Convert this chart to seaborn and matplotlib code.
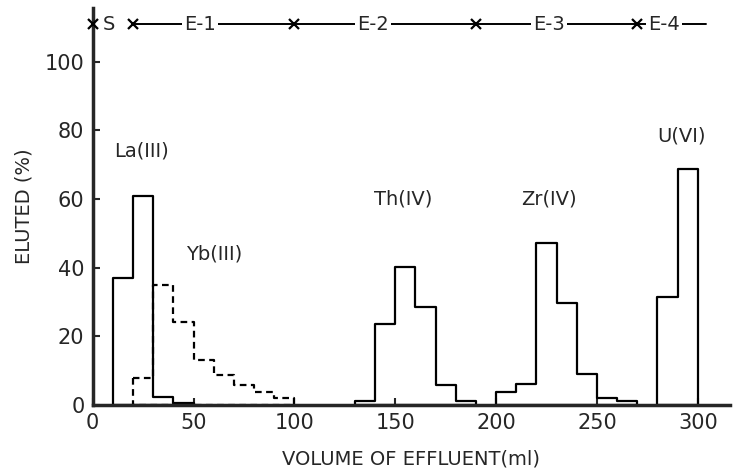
import matplotlib
matplotlib.use("Agg")
import matplotlib.pyplot as plt
import seaborn as sns
import numpy as np
import pandas as pd

# Elution data, 10 ml fractions (bin start volume, % eluted)
la_vol = [10, 20, 30, 40]
la_pct = [37, 61, 2.3, 0.5]

yb_vol = [20, 30, 40, 50, 60, 70, 80, 90]
yb_pct = [7.8, 35, 24, 13, 8.7, 5.7, 3.8, 2.1]

th_vol = [130, 140, 150, 160, 170, 180]
th_pct = [1, 23.5, 40.3, 28.6, 5.7, 1]

zr_vol = [200, 210, 220, 230, 240, 250, 260]
zr_pct = [3.8, 6, 47.3, 29.8, 9.1, 2.1, 1.2]

u_vol = [280, 290]
u_pct = [31.3, 68.7]

# Peak labels
peak_names = ["La(III)", "Yb(III)", "Th(IV)", "Zr(IV)", "U(VI)"]
peak_x = [24, 60, 154, 226, 292]
peak_y = [74, 44, 60, 60, 78.5]

# Eluent sections along the top
step_marks = [0, 20, 100, 190, 270]
step_names = ["S", "E-1", "E-2", "E-3", "E-4"]
step_name_x = [8, 53, 139, 226, 283]
FRAC = 10

sns.set_style("ticks")
plt.rcParams['font.family'] = ['DejaVu Sans']

fig = plt.figure(figsize=(7.36, 4.74), dpi=100)
ax = fig.add_axes([0.126, 0.146, 0.866, 0.837])


def draw_peak(vol, pct, ls):
    # step outline of the fractions, closed down to the baseline
    df = pd.DataFrame({'v': np.array(vol) + FRAC / 2, 'p': pct})
    edges = list(vol) + [vol[-1] + FRAC]
    sns.histplot(data=df, x='v', weights='p', bins=edges, element='step',
                 fill=True, color='black', facecolor='none', edgecolor='black',
                 linewidth=1.6, linestyle=ls, ax=ax)


draw_peak(la_vol, la_pct, '-')
draw_peak(yb_vol, yb_pct, (0, (3, 2)))
draw_peak(th_vol, th_pct, '-')
draw_peak(zr_vol, zr_pct, '-')
draw_peak(u_vol, u_pct, '-')

for name, x, y in zip(peak_names, peak_x, peak_y):
    ax.text(x, y, name, ha='center', va='center', fontsize=14)

# top header line
top_y = 111
ax.plot([step_marks[1], 304], [top_y, top_y], color='black', lw=1.4, zorder=2)
ax.plot(step_marks, [top_y] * len(step_marks), ls='none', marker='x',
        color='black', ms=7, mew=1.6, zorder=3, clip_on=False)
for name, x in zip(step_names, step_name_x):
    ax.text(x, top_y, name, ha='center', va='center', fontsize=14, zorder=4,
            bbox=dict(facecolor='white', edgecolor='none', pad=1.5))

ax.set_xlim(0, 316)
ax.set_ylim(0, 115.7)
ax.set_xticks(range(0, 301, 50))
ax.set_yticks(range(0, 101, 20))
ax.tick_params(direction='in', length=5, width=1.5, labelsize=15, pad=6)
ax.set_xlabel('VOLUME OF EFFLUENT(ml)', fontsize=14, labelpad=12)
ax.set_ylabel('ELUTED (%)', fontsize=14, labelpad=8)
sns.despine(ax=ax)
ax.spines['left'].set_linewidth(2.5)
ax.spines['bottom'].set_linewidth(2.5)

fig.savefig('out.png', dpi=100)
